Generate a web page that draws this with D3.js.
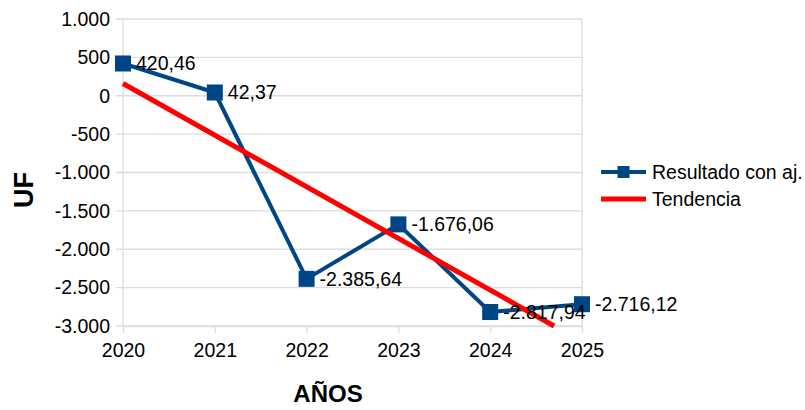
<!DOCTYPE html>
<meta charset="utf-8">
<style>
    body { margin: 0; background: #fff; }
    text { font-family: "Liberation Sans", Arial, sans-serif; }
</style>
<body>
<script src="https://d3js.org/d3.v7.min.js"></script>
<script>

// Chart data
var years = [2020, 2021, 2022, 2023, 2024, 2025];
var resultado = [420.46, 42.37, -2385.64, -1676.06, -2817.94, -2716.12];
var yTicks = [1000, 500, 0, -500, -1000, -1500, -2000, -2500, -3000];
var seriesNames = ['Resultado con aj.', 'Tendencia'];

var width = 805, height = 410;
var plot = {left: 123, right: 582, top: 19, bottom: 326};
var fontSize = 19.5;

var blue = '#004586', red = '#ff0000', grid = '#dddddd';

// number format 1.000 / 420,46
var es = d3.formatLocale({decimal: ',', thousands: '.', grouping: [3], currency: ['', ''], minus: '-'});
var fmtTick = es.format(',.0f');
var fmtVal = es.format(',.2f');

var svg = d3.select('body').append('svg')
    .attr('width', width)
    .attr('height', height);

var x = d3.scaleLinear()
    .domain([2020, 2025])
    .range([plot.left, plot.right]);

var y = d3.scaleLinear()
    .domain([-3000, 1000])
    .range([plot.bottom, plot.top]);

// grid lines
svg.append('g').selectAll('line')
    .data(yTicks)
    .enter().append('line')
    .attr('x1', plot.left - 7)
    .attr('x2', plot.right)
    .attr('y1', function(d) { return y(d); })
    .attr('y2', function(d) { return y(d); })
    .attr('stroke', grid)
    .attr('stroke-width', 1.3);

// left and right borders
svg.append('g').selectAll('line')
    .data([2020, 2025])
    .enter().append('line')
    .attr('x1', function(d) { return x(d); })
    .attr('x2', function(d) { return x(d); })
    .attr('y1', plot.top)
    .attr('y2', plot.bottom)
    .attr('stroke', grid)
    .attr('stroke-width', 1.3);

// x axis
var xAxis = svg.append('g')
    .attr('transform', 'translate(0,' + plot.bottom + ')')
    .call(d3.axisBottom(x).tickValues(years).tickFormat(d3.format('d')).tickSizeOuter(0).tickSizeInner(7).tickPadding(10));
xAxis.select('.domain').attr('stroke', grid).attr('stroke-width', 1.3);
xAxis.selectAll('.tick line').attr('stroke', grid).attr('stroke-width', 1.3);
xAxis.selectAll('text').attr('font-size', fontSize).attr('fill', '#000')
    .style('font-family', '"Liberation Sans", Arial, sans-serif');

// y axis labels
svg.append('g').selectAll('text')
    .data(yTicks)
    .enter().append('text')
    .attr('x', 110)
    .attr('y', function(d) { return y(d); })
    .attr('dy', '0.35em')
    .attr('text-anchor', 'end')
    .attr('font-size', fontSize)
    .text(function(d) { return fmtTick(d); });

// axis titles
svg.append('text')
    .attr('transform', 'translate(33,190) rotate(-90)')
    .attr('text-anchor', 'middle')
    .attr('font-size', 27)
    .attr('font-weight', 'bold')
    .text('UF');

svg.append('text')
    .attr('x', 328)
    .attr('y', 402)
    .attr('text-anchor', 'middle')
    .attr('font-size', 24)
    .attr('font-weight', 'bold')
    .text('AÑOS');

// trend line (least squares), clipped at the bottom of the plot
var xi = years.map(function(d, i) { return i; });
var mx = d3.mean(xi), my = d3.mean(resultado);
var sxy = d3.sum(xi, function(d, i) { return (d - mx) * (resultado[i] - my); });
var sxx = d3.sum(xi, function(d) { return (d - mx) * (d - mx); });
var slope = sxy / sxx, icpt = my - slope * mx;
var xEnd = Math.min(5, (-3000 - icpt) / slope);
var trend = [[2020, icpt], [2020 + xEnd, icpt + slope * xEnd]];

var line = d3.line()
    .x(function(d) { return x(d[0]); })
    .y(function(d) { return y(d[1]); });

var pts = years.map(function(d, i) { return [d, resultado[i]]; });

svg.append('path')
    .datum(pts)
    .attr('d', line)
    .attr('fill', 'none')
    .attr('stroke', blue)
    .attr('stroke-width', 4)
    .attr('stroke-linejoin', 'round');

svg.selectAll('.marker')
    .data(pts)
    .enter().append('rect')
    .attr('class', 'marker')
    .attr('x', function(d) { return x(d[0]) - 8; })
    .attr('y', function(d) { return y(d[1]) - 8; })
    .attr('width', 16)
    .attr('height', 16)
    .attr('fill', blue);

svg.append('path')
    .datum(trend)
    .attr('d', line)
    .attr('fill', 'none')
    .attr('stroke', red)
    .attr('stroke-width', 5);

// value labels
svg.selectAll('.vlabel')
    .data(pts)
    .enter().append('text')
    .attr('class', 'vlabel')
    .attr('x', function(d) { return x(d[0]) + 13; })
    .attr('y', function(d) { return y(d[1]); })
    .attr('dy', '0.35em')
    .attr('font-size', fontSize)
    .text(function(d) { return fmtVal(d[1]); });

// legend
var legend = svg.append('g').attr('transform', 'translate(601,172)');
legend.append('line')
    .attr('x1', 0).attr('x2', 45).attr('y1', 0).attr('y2', 0)
    .attr('stroke', blue).attr('stroke-width', 4);
legend.append('rect')
    .attr('x', 16.5).attr('y', -6).attr('width', 12).attr('height', 12)
    .attr('fill', blue);
legend.append('line')
    .attr('x1', 0).attr('x2', 45).attr('y1', 27).attr('y2', 27)
    .attr('stroke', red).attr('stroke-width', 5);
legend.selectAll('text')
    .data(seriesNames)
    .enter().append('text')
    .attr('x', 51)
    .attr('y', function(d, i) { return i * 27; })
    .attr('dy', '0.35em')
    .attr('font-size', fontSize)
    .text(function(d) { return d; });

</script>
</body>
